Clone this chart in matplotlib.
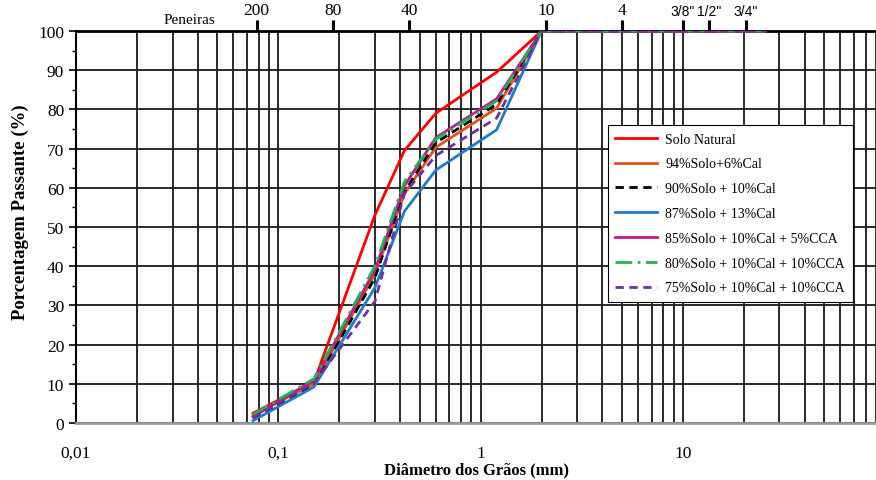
import matplotlib
matplotlib.use("Agg")
import matplotlib.pyplot as plt
from matplotlib.ticker import FixedLocator, NullFormatter, NullLocator

plt.rcParams["font.family"] = ["Liberation Serif", "DejaVu Serif"]

# grain sizes (mm) of the sieves used in the test
diametro = [0.075, 0.15, 0.3, 0.42, 0.6, 1.2, 2.0, 4.8, 9.5, 12.7, 19.1, 25.4]

solo_natural = [2.5, 10.5, 53, 69.5, 79, 89.5, 100, 100, 100, 100, 100, 100]
solo94_cal6 = [2.0, 10, 38, 58.5, 70.3, 80.3, 100, 100, 100, 100, 100, 100]
solo90_cal10 = [1.3, 9.5, 37, 59, 71.5, 81.3, 100, 100, 100, 100, 100, 100]
solo87_cal13 = [0.6, 9.2, 34.5, 54, 64.5, 74.8, 100, 100, 100, 100, 100, 100]
solo85_cal10_cca5 = [1.6, 11, 39, 60.5, 72.8, 82.7, 100, 100, 100, 100, 100, 100]
solo80_cal10_cca10 = [2.2, 11.3, 40, 61.5, 72.4, 82.2, 100, 100, 100, 100, 100, 100]
solo75_cal10_cca10 = [1.4, 10.2, 31, 58.5, 68.2, 77.8, 100, 100, 100, 100, 100, 100]

series = [
    ("Solo Natural", solo_natural, "#FF0000", "-"),
    ("94%Solo+6%Cal", solo94_cal6, "#E2501C", "-"),
    ("90%Solo + 10%Cal", solo90_cal10, "#000000", (0, (3, 2))),
    ("87%Solo + 13%Cal", solo87_cal13, "#1F7DC6", "-"),
    ("85%Solo + 10%Cal + 5%CCA", solo85_cal10_cca5, "#C0188E", "-"),
    ("80%Solo + 10%Cal + 10%CCA", solo80_cal10_cca10, "#1DB454", (0, (6, 2, 1, 2))),
    ("75%Solo + 10%Cal + 10%CCA", solo75_cal10_cca10, "#7030A0", (0, (3, 2))),
]

# sieve marks on the top axis
peneiras_pos = [0.078, 0.186, 0.443, 2.1, 5.0, 10.0, 13.4, 20.4]
peneiras_lbl = ["200", "80", "40", "10", "4", '3/8"', '1/2"', '3/4"']

x_ticks = [0.01, 0.1, 1, 10]
x_ticklabels = ["0,01", "0,1", "1", "10"]

fig = plt.figure(figsize=(8.76, 4.81), dpi=100)
ax = fig.add_axes([0.0868, 0.1185, 0.9132, 0.815])

ax.set_xscale("log")
ax.set_xlim(0.01, 90)
ax.set_ylim(0, 100)

for label, values, color, style in series:
    ax.plot(diametro, values, color=color, linestyle=style, linewidth=2, label=label, zorder=3)

# grid: every log sub-division and every 10 %
minor_x = [m * 10.0 ** e for e in range(-2, 2) for m in range(1, 10)]
ax.xaxis.set_major_locator(FixedLocator(x_ticks))
ax.xaxis.set_minor_locator(FixedLocator(minor_x))
ax.xaxis.set_minor_formatter(NullFormatter())
ax.set_xticklabels(x_ticklabels)
ax.grid(True, which="both", axis="x", color="#1a1a1a", linewidth=1.3, zorder=1)
ax.set_yticks(range(0, 101, 10))
ax.yaxis.set_minor_locator(FixedLocator(range(5, 100, 10)))
ax.grid(True, which="major", axis="y", color="#1a1a1a", linewidth=1.3, zorder=1)

ax.tick_params(axis="x", which="both", bottom=False, top=False, pad=12, labelsize=12.5)
ax.tick_params(axis="y", which="major", length=5, width=1.2, direction="out", labelsize=12.5)
ax.tick_params(axis="y", which="minor", length=3, width=1.0, direction="out")

ax.spines["right"].set_visible(False)
ax.spines["left"].set_linewidth(1.5)
ax.spines["top"].set_linewidth(2.0)
ax.spines["bottom"].set_color("#999999")
ax.spines["bottom"].set_linewidth(2.0)

ax.set_xlabel("Diâmetro dos Grãos (mm)", fontsize=12, fontweight="bold")
ax.xaxis.set_label_coords(0.5, -0.118)
ax.xaxis.label.set_va("center")
ax.set_ylabel("Porcentagem Passante (%)", fontsize=13.5, fontweight="bold")
ax.yaxis.set_label_coords(-0.07, 0.541)
ax.yaxis.label.set_va("center")

top = ax.secondary_xaxis("top")
top.xaxis.set_major_locator(FixedLocator(peneiras_pos))
top.xaxis.set_minor_locator(NullLocator())
top.set_xticklabels(peneiras_lbl)
top.tick_params(axis="x", direction="out", length=8, width=2.2, pad=1, labelsize=12.5)
for t in top.get_xticklabels():
    if '"' in t.get_text():
        t.set_fontfamily(["Liberation Sans", "DejaVu Sans"])
        t.set_fontsize(10)
top.spines["top"].set_visible(False)
ax.text(0.0365, 1.012, "Peneiras", transform=ax.get_xaxis_transform(), ha="center",
        va="bottom", fontsize=11)

leg = ax.legend(loc="upper left", bbox_to_anchor=(0.656, 0.778), fontsize=10,
                frameon=True, fancybox=False, framealpha=1, edgecolor="#000000",
                handlelength=3.0, labelspacing=0.85, borderpad=0.55, handletextpad=0.6)
leg.get_frame().set_linewidth(0.8)
leg.set_zorder(5)

fig.savefig("out.png", dpi=100)
